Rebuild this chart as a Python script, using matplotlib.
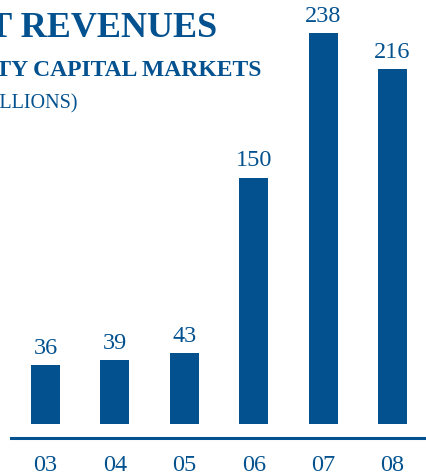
import matplotlib
matplotlib.use("Agg")
import matplotlib.pyplot as plt

# equity capital markets net revenues, $ millions
years = ["03", "04", "05", "06", "07", "08"]
revenues = [36, 39, 43, 150, 238, 216]

BLUE = "#03528f"
W, H, DPI = 426, 475, 100

plt.rcParams["font.family"] = ["Liberation Serif", "DejaVu Serif"]

fig = plt.figure(figsize=(W / DPI, H / DPI), dpi=DPI)

# axes spans from the baseline rule up to the top edge, pixel-placed
ax_left, ax_right = 11, 426
ax_bottom = 438
ax = fig.add_axes([ax_left / W, (H - ax_bottom) / H, (ax_right - ax_left) / W, ax_bottom / H])

xs = list(range(len(years)))
ax.bar(xs, revenues, width=0.418, color=BLUE, zorder=2)

px_per_unit = (424 - 33) / 238.0
ax.set_ylim(-(ax_bottom - 424) / px_per_unit, 424 / px_per_unit)
step = 69.4
ax.set_xlim(-(45.5 - ax_left) / step, (ax_right - 45.5) / step)

for x, v in zip(xs, revenues):
    ax.annotate(str(v), (x, v), xytext=(0, 8), textcoords="offset points",
                ha="center", va="baseline", fontsize=17.5, color=BLUE)

ax.set_xticks(xs)
ax.set_xticklabels(years, fontsize=17.5, color=BLUE)
ax.tick_params(axis="x", length=0, pad=12)
ax.set_yticks([])
for side in ("top", "right", "left"):
    ax.spines[side].set_visible(False)
ax.spines["bottom"].set_color(BLUE)
ax.spines["bottom"].set_linewidth(2.2)

# headings, running off the left edge
fig.text(217 / W, 1 - 37 / H, "NET REVENUES", ha="right", va="baseline",
         fontsize=26, color=BLUE, fontweight="bold")
fig.text(261 / W, 1 - 76 / H, "EQUITY CAPITAL MARKETS", ha="right", va="baseline",
         fontsize=17, color=BLUE, fontweight="bold")
fig.text(77 / W, 1 - 108 / H, "(IN MILLIONS)", ha="right", va="baseline",
         fontsize=14.5, color=BLUE)

fig.savefig("out.png", dpi=DPI)
